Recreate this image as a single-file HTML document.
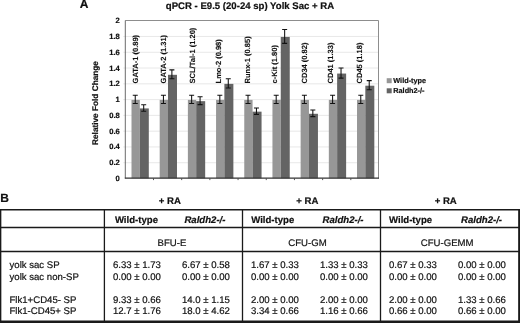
<!DOCTYPE html>
<html><head><meta charset="utf-8"><title>Figure</title>
<style>
html,body{margin:0;padding:0;background:#fff;}
body{width:520px;height:323px;overflow:hidden;position:relative;font-family:"Liberation Sans",sans-serif;}
svg text{font-family:"Liberation Sans",sans-serif;fill:#111;stroke:#111;stroke-width:0.2px;text-rendering:geometricPrecision;}
.tk{font-size:7.6px;font-weight:bold;}
.bl{font-size:7.5px;font-weight:bold;stroke-width:0.1px;}
.at{font-size:8.25px;font-weight:bold;}
.ti{font-size:9.6px;font-weight:bold;}
.pl{font-size:12px;font-weight:bold;}
.lg{font-size:7.3px;font-weight:bold;}
.hb{font-size:9.6px;font-weight:bold;}
.hbi{font-size:9.6px;font-weight:bold;font-style:italic;}
.tx{font-size:9.6px;}
</style></head><body>
<svg width="520" height="323" viewBox="0 0 520 323" style="position:absolute;left:0;top:0">
<rect x="0" y="0" width="520" height="323" fill="#fff"/>
<text x="119.8" y="181.00" text-anchor="end" class="tk">0</text>
<line x1="123.3" x2="378.5" y1="162.72" y2="162.72" stroke="#e2e2e2" stroke-width="0.8"/>
<text x="119.8" y="165.22" text-anchor="end" class="tk">0.2</text>
<line x1="123.3" x2="378.5" y1="146.94" y2="146.94" stroke="#e2e2e2" stroke-width="0.8"/>
<text x="119.8" y="149.44" text-anchor="end" class="tk">0.4</text>
<line x1="123.3" x2="378.5" y1="131.16" y2="131.16" stroke="#e2e2e2" stroke-width="0.8"/>
<text x="119.8" y="133.66" text-anchor="end" class="tk">0.6</text>
<line x1="123.3" x2="378.5" y1="115.38" y2="115.38" stroke="#e2e2e2" stroke-width="0.8"/>
<text x="119.8" y="117.88" text-anchor="end" class="tk">0.8</text>
<line x1="123.3" x2="378.5" y1="99.60" y2="99.60" stroke="#e2e2e2" stroke-width="0.8"/>
<text x="119.8" y="102.10" text-anchor="end" class="tk">1</text>
<line x1="123.3" x2="378.5" y1="83.82" y2="83.82" stroke="#e2e2e2" stroke-width="0.8"/>
<text x="119.8" y="86.32" text-anchor="end" class="tk">1.2</text>
<line x1="123.3" x2="378.5" y1="68.04" y2="68.04" stroke="#e2e2e2" stroke-width="0.8"/>
<text x="119.8" y="70.54" text-anchor="end" class="tk">1.4</text>
<line x1="123.3" x2="378.5" y1="52.26" y2="52.26" stroke="#e2e2e2" stroke-width="0.8"/>
<text x="119.8" y="54.76" text-anchor="end" class="tk">1.6</text>
<line x1="123.3" x2="378.5" y1="36.48" y2="36.48" stroke="#e2e2e2" stroke-width="0.8"/>
<text x="119.8" y="38.98" text-anchor="end" class="tk">1.8</text>
<text x="119.8" y="23.20" text-anchor="end" class="tk">2</text>
<rect x="131.50" y="99.90" width="8.3" height="78.40" fill="#979797"/>
<rect x="139.80" y="108.42" width="9.0" height="69.88" fill="#646464"/>
<path d="M135.25 95.22V103.58M132.75 95.22h5M132.75 103.58h5" stroke="#111" stroke-width="1.05" fill="none"/>
<path d="M143.70 104.69V111.16M141.20 104.69h5M141.20 111.16h5" stroke="#111" stroke-width="1.05" fill="none"/>
<text transform="translate(138.25,83.4) rotate(-90)" class="bl">GATA-1 (0.89)</text>
<rect x="159.69" y="99.90" width="8.3" height="78.40" fill="#979797"/>
<rect x="167.99" y="74.81" width="9.0" height="103.49" fill="#646464"/>
<path d="M163.44 95.22V103.58M160.94 95.22h5M160.94 103.58h5" stroke="#111" stroke-width="1.05" fill="none"/>
<path d="M171.89 69.89V78.73M169.39 69.89h5M169.39 78.73h5" stroke="#111" stroke-width="1.05" fill="none"/>
<text transform="translate(166.44,83.4) rotate(-90)" class="bl">GATA-2 (1.31)</text>
<rect x="187.88" y="99.90" width="8.3" height="78.40" fill="#979797"/>
<rect x="196.18" y="101.16" width="9.0" height="77.14" fill="#646464"/>
<path d="M191.63 95.22V103.58M189.13 95.22h5M189.13 103.58h5" stroke="#111" stroke-width="1.05" fill="none"/>
<path d="M200.08 96.72V104.61M197.58 96.72h5M197.58 104.61h5" stroke="#111" stroke-width="1.05" fill="none"/>
<text transform="translate(194.63,83.4) rotate(-90)" class="bl">SCL/Tal-1 (1.20)</text>
<rect x="216.07" y="99.90" width="8.3" height="78.40" fill="#979797"/>
<rect x="224.37" y="83.88" width="9.0" height="94.42" fill="#646464"/>
<path d="M219.82 95.22V103.58M217.32 95.22h5M217.32 103.58h5" stroke="#111" stroke-width="1.05" fill="none"/>
<path d="M228.27 78.73V88.04M225.77 78.73h5M225.77 88.04h5" stroke="#111" stroke-width="1.05" fill="none"/>
<text transform="translate(220.62,83.4) rotate(-90)" class="bl">Lmo-2 (0.98)</text>
<rect x="244.26" y="99.90" width="8.3" height="78.40" fill="#979797"/>
<rect x="252.56" y="111.66" width="9.0" height="66.64" fill="#646464"/>
<path d="M248.01 95.22V103.58M245.51 95.22h5M245.51 103.58h5" stroke="#111" stroke-width="1.05" fill="none"/>
<path d="M256.46 107.92V114.39M253.96 107.92h5M253.96 114.39h5" stroke="#111" stroke-width="1.05" fill="none"/>
<text transform="translate(249.91,83.4) rotate(-90)" class="bl">Runx-1 (0.85)</text>
<rect x="272.45" y="99.90" width="8.3" height="78.40" fill="#979797"/>
<rect x="280.75" y="36.94" width="9.0" height="141.36" fill="#646464"/>
<path d="M276.20 95.22V103.58M273.70 95.22h5M273.70 103.58h5" stroke="#111" stroke-width="1.05" fill="none"/>
<path d="M284.65 29.49V43.38M282.15 29.49h5M282.15 43.38h5" stroke="#111" stroke-width="1.05" fill="none"/>
<text transform="translate(276.80,83.4) rotate(-90)" class="bl">c-Kit (1.80)</text>
<rect x="300.64" y="99.90" width="8.3" height="78.40" fill="#979797"/>
<rect x="308.94" y="113.79" width="9.0" height="64.51" fill="#646464"/>
<path d="M304.39 95.22V103.58M301.89 95.22h5M301.89 103.58h5" stroke="#111" stroke-width="1.05" fill="none"/>
<path d="M312.84 109.97V116.60M310.34 109.97h5M310.34 116.60h5" stroke="#111" stroke-width="1.05" fill="none"/>
<text transform="translate(307.39,83.4) rotate(-90)" class="bl">CD34 (0.82)</text>
<rect x="328.83" y="99.90" width="8.3" height="78.40" fill="#979797"/>
<rect x="337.13" y="73.55" width="9.0" height="104.75" fill="#646464"/>
<path d="M332.58 95.22V103.58M330.08 95.22h5M330.08 103.58h5" stroke="#111" stroke-width="1.05" fill="none"/>
<path d="M341.03 68.00V78.10M338.53 68.00h5M338.53 78.10h5" stroke="#111" stroke-width="1.05" fill="none"/>
<text transform="translate(332.88,83.4) rotate(-90)" class="bl">CD41 (1.33)</text>
<rect x="357.02" y="99.90" width="8.3" height="78.40" fill="#979797"/>
<rect x="365.32" y="85.70" width="9.0" height="92.60" fill="#646464"/>
<path d="M360.77 95.22V103.58M358.27 95.22h5M358.27 103.58h5" stroke="#111" stroke-width="1.05" fill="none"/>
<path d="M369.22 80.62V89.77M366.72 80.62h5M366.72 89.77h5" stroke="#111" stroke-width="1.05" fill="none"/>
<text transform="translate(362.37,83.4) rotate(-90)" class="bl">CD45 (1.18)</text>
<path d="M125.3 20.5H378.5V178.3" fill="none" stroke="#808080" stroke-width="0.9"/>
<path d="M125.3 20.5V178.3" fill="none" stroke="#5a5a5a" stroke-width="0.9"/>
<path d="M124.8 178.10000000000002H379.0" fill="none" stroke="#333" stroke-width="1.2"/>
<line x1="153.49" x2="153.49" y1="178.3" y2="180.10000000000002" stroke="#444" stroke-width="0.9"/>
<line x1="181.68" x2="181.68" y1="178.3" y2="180.10000000000002" stroke="#444" stroke-width="0.9"/>
<line x1="209.87" x2="209.87" y1="178.3" y2="180.10000000000002" stroke="#444" stroke-width="0.9"/>
<line x1="238.06" x2="238.06" y1="178.3" y2="180.10000000000002" stroke="#444" stroke-width="0.9"/>
<line x1="266.25" x2="266.25" y1="178.3" y2="180.10000000000002" stroke="#444" stroke-width="0.9"/>
<line x1="294.44" x2="294.44" y1="178.3" y2="180.10000000000002" stroke="#444" stroke-width="0.9"/>
<line x1="322.63" x2="322.63" y1="178.3" y2="180.10000000000002" stroke="#444" stroke-width="0.9"/>
<line x1="350.82" x2="350.82" y1="178.3" y2="180.10000000000002" stroke="#444" stroke-width="0.9"/>
<text transform="translate(97.6,103) rotate(-90)" text-anchor="middle" class="at">Relative Fold Change</text>
<text x="250" y="8.7" text-anchor="middle" class="ti">qPCR - E9.5 (20-24 sp) Yolk Sac + RA</text>
<text x="79.8" y="8.3" class="pl">A</text>
<rect x="386.7" y="78.2" width="5" height="5" fill="#979797"/><text x="393.3" y="83.2" class="lg">Wild-type</text>
<rect x="386.7" y="88.3" width="5" height="5" fill="#646464"/><text x="393.3" y="93.2" class="lg">Raldh2-/-</text>
<text x="0.2" y="201.7" class="pl">B</text>
<g stroke="#1a1a1a" fill="none">
<path d="M0 209.7H520" stroke-width="1.6"/>
<path d="M0.65 209V323" stroke-width="1.4"/>
<path d="M519.1 209V323" stroke-width="1.9"/>
<path d="M0 321.8H520" stroke-width="2.4"/>
<path d="M0.5 227.5H519M0.5 251.5H519M104.4 209.6V321M242.5 209.6V321M380.5 209.6V321" stroke-width="1.3"/>
</g>
<text x="169.8" y="203.8" text-anchor="middle" class="hb">+ RA</text>
<text x="114.9" y="222.6" class="hb">Wild-type</text>
<text x="184.4" y="222.6" class="hbi">Raldh2-/-</text>
<text x="172.0" y="246" text-anchor="middle" class="tx">BFU-E</text>
<text x="112.9" y="268.4" class="tx">6.33 ± 1.73</text>
<text x="181.9" y="268.4" class="tx">6.67 ± 0.58</text>
<text x="112.9" y="279.8" class="tx">0.00 ± 0.00</text>
<text x="181.9" y="279.8" class="tx">0.00 ± 0.00</text>
<text x="112.9" y="302.9" class="tx">9.33 ± 0.66</text>
<text x="181.9" y="302.9" class="tx">14.0 ± 1.15</text>
<text x="112.9" y="314.2" class="tx">12.7 ± 1.76</text>
<text x="181.9" y="314.2" class="tx">18.0 ± 4.62</text>
<text x="307.4" y="203.8" text-anchor="middle" class="hb">+ RA</text>
<text x="251.2" y="222.6" class="hb">Wild-type</text>
<text x="322.5" y="222.6" class="hbi">Raldh2-/-</text>
<text x="307.5" y="246" text-anchor="middle" class="tx">CFU-GM</text>
<text x="251.0" y="268.4" class="tx">1.67 ± 0.33</text>
<text x="320.0" y="268.4" class="tx">1.33 ± 0.33</text>
<text x="251.0" y="279.8" class="tx">0.00 ± 0.00</text>
<text x="320.0" y="279.8" class="tx">0.00 ± 0.00</text>
<text x="251.0" y="302.9" class="tx">2.00 ± 0.00</text>
<text x="320.0" y="302.9" class="tx">2.00 ± 0.00</text>
<text x="251.0" y="314.2" class="tx">3.34 ± 0.66</text>
<text x="320.0" y="314.2" class="tx">1.16 ± 0.66</text>
<text x="445.7" y="203.8" text-anchor="middle" class="hb">+ RA</text>
<text x="389.0" y="222.6" class="hb">Wild-type</text>
<text x="461.0" y="222.6" class="hbi">Raldh2-/-</text>
<text x="447.2" y="246" text-anchor="middle" class="tx">CFU-GEMM</text>
<text x="389.0" y="268.4" class="tx">0.67 ± 0.33</text>
<text x="458.0" y="268.4" class="tx">0.00 ± 0.00</text>
<text x="389.0" y="279.8" class="tx">0.00 ± 0.00</text>
<text x="458.0" y="279.8" class="tx">0.00 ± 0.00</text>
<text x="389.0" y="302.9" class="tx">2.00 ± 0.00</text>
<text x="458.0" y="302.9" class="tx">1.33 ± 0.66</text>
<text x="389.0" y="314.2" class="tx">0.66 ± 0.00</text>
<text x="458.0" y="314.2" class="tx">0.66 ± 0.00</text>
<text x="9.5" y="268.4" class="tx">yolk sac SP</text>
<text x="9.5" y="279.8" class="tx">yolk sac non-SP</text>
<text x="9.5" y="302.9" class="tx">Flk1+CD45- SP</text>
<text x="9.5" y="314.2" class="tx">Flk1-CD45+ SP</text>
</svg>
</body></html>
